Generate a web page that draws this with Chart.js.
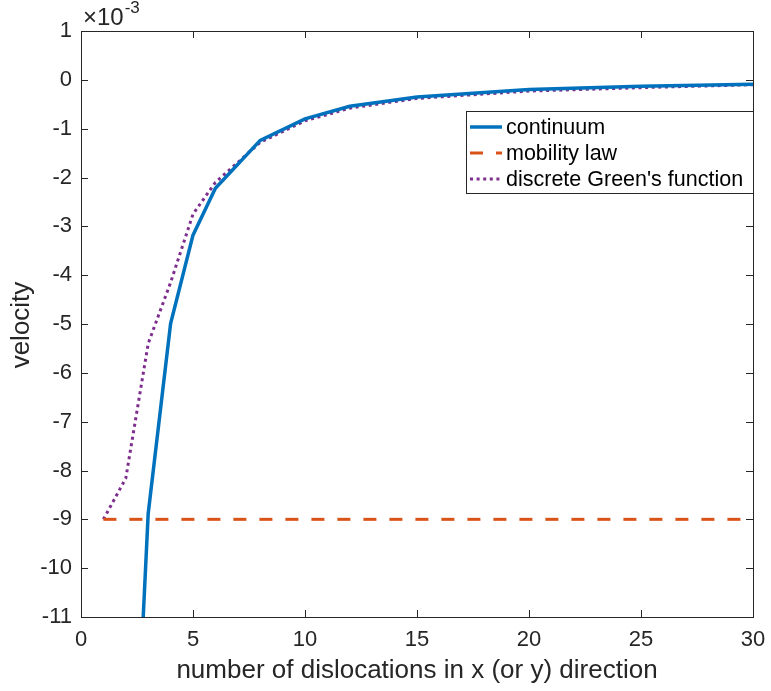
<!DOCTYPE html>
<html>
<head>
<meta charset="utf-8">
<script src="https://cdn.jsdelivr.net/npm/chart.js@4"></script>
<style>
  body { margin: 0; background: #fff; }
  #wrap { width: 771px; height: 691px; }
</style>
</head>
<body>
<div id="wrap"><canvas id="myChart" width="771" height="691"></canvas></div>
<script>
// values in units of 1e-3
const nContinuum = [2, 3, 4, 5, 6, 8, 10, 12, 15, 20, 25, 30];
const continuum = [-18.4, -8.88, -4.99, -3.18, -2.22, -1.24, -0.80, -0.54, -0.35, -0.20, -0.13, -0.09];

const nMobility = [1, 30];
const mobility = [-9, -9];

const nDiscrete = [1, 2, 3, 4, 5, 6, 8, 10, 12, 15, 20, 25, 30];
const discrete = [-9.0, -8.16, -5.4, -4.15, -2.75, -2.1, -1.28, -0.84, -0.58, -0.38, -0.23, -0.16, -0.10];

const xTicks = [0, 5, 10, 15, 20, 25, 30];
const yTicks = [-11, -10, -9, -8, -7, -6, -5, -4, -3, -2, -1, 0, 1];

const font = '"Liberation Sans", Arial, sans-serif';
const ink = '#262626';

function toPoints(xs, ys) {
  return xs.map((x, i) => ({ x: x, y: ys[i] }));
}

// box, inward ticks, titles, legend and exponent label (MATLAB look)
const matlabFrame = {
  id: 'matlabFrame',
  afterDraw(chart) {
    const ctx = chart.ctx;
    const a = chart.chartArea;
    const xs = chart.scales.x;
    const ys = chart.scales.y;
    const tl = 7;
    ctx.save();
    ctx.strokeStyle = ink;
    ctx.lineWidth = 1;
    ctx.beginPath();
    xTicks.forEach(v => {
      const p = Math.round(xs.getPixelForValue(v)) + 0.5;
      ctx.moveTo(p, a.bottom); ctx.lineTo(p, a.bottom - tl);
      ctx.moveTo(p, a.top); ctx.lineTo(p, a.top + tl);
    });
    yTicks.forEach(v => {
      const p = Math.round(ys.getPixelForValue(v)) + 0.5;
      ctx.moveTo(a.left, p); ctx.lineTo(a.left + tl, p);
      ctx.moveTo(a.right, p); ctx.lineTo(a.right - tl, p);
    });
    ctx.stroke();
    ctx.strokeRect(Math.round(a.left) + 0.5, Math.round(a.top) + 0.5,
      Math.round(a.right - a.left), Math.round(a.bottom - a.top));

    // axis titles
    ctx.fillStyle = ink;
    ctx.font = '26px ' + font;
    ctx.textAlign = 'center';
    ctx.textBaseline = 'alphabetic';
    ctx.fillText('number of dislocations in x (or y) direction', (a.left + a.right) / 2, 678);
    ctx.save();
    ctx.translate(22, (a.top + a.bottom) / 2 + 1);
    ctx.rotate(-Math.PI / 2);
    ctx.textBaseline = 'middle';
    ctx.fillText('velocity', 0, 0);
    ctx.restore();

    // exponent
    ctx.textAlign = 'left';
    ctx.textBaseline = 'alphabetic';
    ctx.font = '24px ' + font;
    ctx.fillText('\u00d710', a.left + 2, 25);
    const w = ctx.measureText('\u00d710').width;
    ctx.font = '17px ' + font;
    ctx.fillText('-3', a.left + 3 + w, 13);

    // legend
    const lx = 466, ly = 111, lw = a.right - 466, lh = 82;
    ctx.fillStyle = '#fff';
    ctx.fillRect(lx, ly, lw, lh);
    ctx.strokeStyle = ink;
    ctx.lineWidth = 1;
    ctx.strokeRect(lx + 0.5, ly + 0.5, lw, lh);
    ctx.font = '21.5px ' + font;
    ctx.textBaseline = 'middle';
    const rows = [127, 153, 179];
    chart.data.datasets.forEach((ds, i) => {
      const y = rows[i];
      ctx.save();
      ctx.strokeStyle = ds.borderColor;
      ctx.lineWidth = ds.borderWidth;
      ctx.setLineDash(ds.borderDash || []);
      ctx.lineCap = 'butt';
      ctx.beginPath();
      ctx.moveTo(470, y);
      ctx.lineTo(502, y);
      ctx.stroke();
      ctx.restore();
      ctx.fillStyle = '#000';
      ctx.fillText(ds.label, 506, y + 1);
    });
    ctx.restore();
  }
};

new Chart(document.getElementById('myChart'), {
  type: 'line',
  data: {
    datasets: [
      {
        label: 'continuum',
        data: toPoints(nContinuum, continuum),
        borderColor: '#0072BD',
        borderWidth: 3.5,
        pointRadius: 0,
        tension: 0
      },
      {
        label: 'mobility law',
        data: toPoints(nMobility, mobility),
        borderColor: '#D95319',
        borderWidth: 3,
        borderDash: [13, 13],
        pointRadius: 0,
        tension: 0
      },
      {
        label: "discrete Green's function",
        data: toPoints(nDiscrete, discrete),
        borderColor: '#7E2F8E',
        borderWidth: 3,
        borderDash: [3, 3.6],
        borderCapStyle: 'butt',
        pointRadius: 0,
        tension: 0
      }
    ]
  },
  options: {
    responsive: false,
    animation: false,
    layout: { padding: { top: 31, right: 18, left: 0, bottom: 0 } },
    plugins: { legend: { display: false }, tooltip: { enabled: false } },
    scales: {
      x: {
        type: 'linear',
        min: 0,
        max: 30,
        afterFit: s => { s.height = 74; s.paddingLeft = 0; s.paddingRight = 0; },
        afterBuildTicks: s => { s.ticks = xTicks.map(v => ({ value: v })); },
        grid: { display: false, drawTicks: false },
        border: { display: false },
        ticks: { color: ink, font: { family: font, size: 22 }, padding: 10, maxRotation: 0 }
      },
      y: {
        type: 'linear',
        min: -11,
        max: 1,
        afterFit: s => { s.width = 81; s.paddingTop = 0; s.paddingBottom = 0; },
        afterBuildTicks: s => { s.ticks = yTicks.map(v => ({ value: v })); },
        grid: { display: false, drawTicks: false },
        border: { display: false },
        ticks: { color: ink, font: { family: font, size: 22 }, padding: 9 }
      }
    }
  },
  plugins: [matlabFrame]
});
</script>
</body>
</html>
